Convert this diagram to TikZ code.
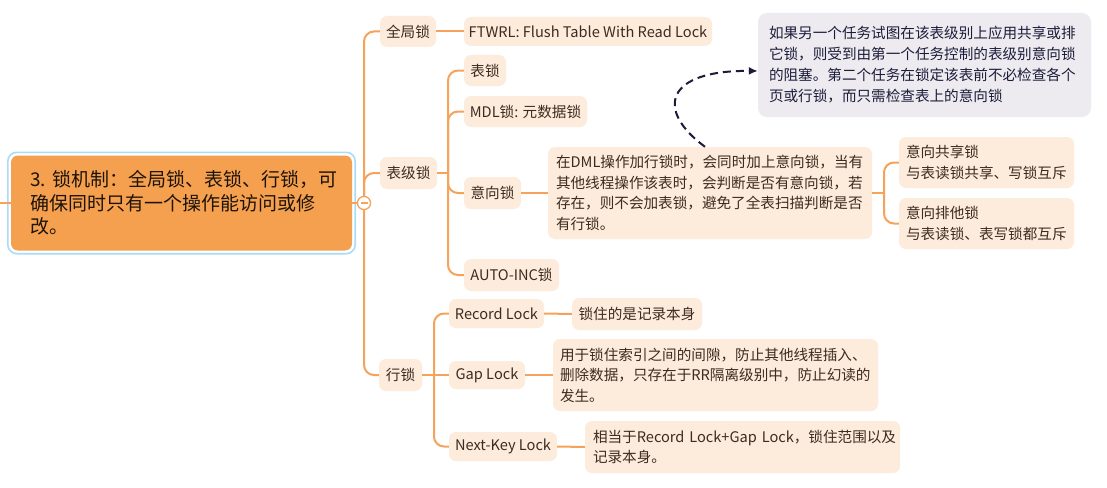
\documentclass[tikz,border=0pt]{standalone}
\usepackage{fontspec}
\setmainfont{Noto Sans CJK SC}
\usetikzlibrary{arrows.meta}
\definecolor{orangeline}{HTML}{F5A25A}
\definecolor{peach}{HTML}{FDEBDC}
\definecolor{mainfill}{HTML}{F5A04F}
\definecolor{mainborder}{HTML}{A8DCF7}
\definecolor{txt}{HTML}{3D2B1F}
\definecolor{calloutfill}{HTML}{EDEBEF}
\definecolor{navy}{HTML}{1C1C3A}
\begin{document}
\begin{tikzpicture}[x=1pt,y=-1pt,
  box/.style={fill=peach, rounded corners=7pt, inner sep=0pt, text=txt,
    font=\fontsize{14.6}{20.5}\selectfont},
  multibox/.style={box, align=left, inner xsep=8pt, inner ysep=0pt},
  mainbox/.style={fill=mainfill, rounded corners=7pt, inner xsep=19pt, inner ysep=0pt,
    text=black!85!brown, align=left, font=\fontsize{19}{23.5}\selectfont},
  callbox/.style={fill=calloutfill, rounded corners=9pt, inner xsep=11pt, inner ysep=0pt,
    text=navy, align=left, font=\fontsize{14.6}{21}\selectfont},
  conn/.style={draw=orangeline, line width=2pt},
  tree/.style={conn, rounded corners=10pt},
  dasharrow/.style={draw=navy, line width=2pt, dash pattern=on 8pt off 5pt,
    -{Latex[length=9pt,width=8pt]}}
]
\useasboundingbox (0,0) rectangle (1107,487);
\fill[white] (0,0) rectangle (1107,487);

% main node
\node[mainbox, minimum width=341pt, minimum height=95pt, text width=303pt] (main) at (181.5,203)
  {3.~锁机制：全局锁、表锁、行锁，可\\确保同时只有一个操作能访问或修\\改。};
\draw[mainborder, line width=1.6pt, rounded corners=9pt]
  ([shift={(-3,-3)}]main.north west) rectangle ([shift={(3,3)}]main.south east);

% collapse circle
\node[circle, draw=orangeline, fill=white, line width=1.2pt, minimum size=13pt, inner sep=0pt] (circ) at (364,203) {};

% level 1
\node[box, minimum width=56pt, minimum height=31pt] (g) at (408,31.5) {全局锁};
\node[box, minimum width=57pt, minimum height=32pt] (bjs) at (408.5,173) {表级锁};
\node[box, minimum width=43pt, minimum height=32pt] (hs) at (400.5,375) {行锁};

% 全局锁 child
\node[box, minimum width=248pt, minimum height=29pt] (ftwrl) at (588,31.5) {FTWRL: Flush Table With Read Lock};

% 表级锁 children
\node[box, minimum width=42pt, minimum height=31pt] (biao) at (485,70.5) {表锁};
\node[box, minimum width=123pt, minimum height=31pt] (mdl) at (525.5,111.5) {MDL锁: 元数据锁};
\node[box, minimum width=57pt, minimum height=32pt] (yxs) at (492.5,193) {意向锁};
\node[box, minimum width=95pt, minimum height=32pt] (auto) at (511.5,275) {AUTO-INC锁};

% 意向锁 description
\node[multibox, text width=308pt, minimum height=92pt] (dml) at (710,193)
  {在DML操作加行锁时，会同时加上意向锁，当有\\其他线程操作该表时，会判断是否有意向锁，若\\存在，则不会加表锁，避免了全表扫描判断是否\\有行锁。};
\node[multibox, inner xsep=7pt, text width=161pt, minimum height=51pt] (yxgx) at (986.5,162.5)
  {意向共享锁\\与表读锁共享、写锁互斥};
\node[multibox, inner xsep=7pt, text width=161pt, minimum height=51pt] (yxpt) at (986.5,223.5)
  {意向排他锁\\与表读锁、表写锁都互斥};

% callout
\node[callbox, text width=311pt, minimum height=104pt] (callout) at (924.5,65)
  {如果另一个任务试图在该表级别上应用共享或排\\它锁，则受到由第一个任务控制的表级别意向锁\\的阻塞。第二个任务在锁定该表前不必检查各个\\页或行锁，而只需检查表上的意向锁};

% 行锁 children
\node[box, minimum width=95pt, minimum height=29pt] (rec) at (496.5,313.5) {Record Lock};
\node[box, minimum width=76pt, minimum height=28pt] (gap) at (487,375) {Gap Lock};
\node[box, minimum width=108pt, minimum height=29pt] (nk) at (503,446.5) {Next-Key Lock};
\node[box, minimum width=130pt, minimum height=32pt] (recd) at (637,314) {锁住的是记录本身};
\node[multibox, inner xsep=7pt, text width=311pt, minimum height=72pt] (gapd) at (715.5,375)
  {用于锁住索引之间的间隙，防止其他线程插入、\\删除数据，只存在于RR隔离级别中，防止幻读的\\发生。};
\node[multibox, inner xsep=8pt, text width=299pt, minimum height=52pt] (nkd) at (742.5,447)
  {相当于Record~Lock+Gap~Lock，锁住范围以及\\记录本身。};

% coordinates
\coordinate (lft) at (0,203);
\coordinate (tj) at (448,173);
\coordinate (fk) at (884,193);
\coordinate (rj) at (434,375);
\coordinate (ds) at ([xshift=-5pt]dml.north);
\coordinate (ce) at ([yshift=-6pt]callout.west);

% connectors
\draw[conn] (lft) -- (main.west);
\draw[conn] (main.east) -- (circ.west);
\draw[tree] (circ.north) |- (g.west);
\draw[tree] (circ.north) |- (bjs.west);
\draw[tree] (circ.south) |- (hs.west);
\draw[conn] (g.east) -- (ftwrl.west);
\draw[conn] (bjs.east) -- (tj);
\draw[tree] (tj) |- (biao.west);
\draw[tree] (tj) |- (mdl.west);
\draw[tree] (tj) |- (yxs.west);
\draw[tree] (tj) |- (auto.west);
\draw[conn] (yxs.east) -- (dml.west);
\draw[conn] (dml.east) -- (fk);
\draw[tree] (fk) |- (yxgx.west);
\draw[tree] (fk) |- (yxpt.west);
\draw[conn] (hs.east) -- (rj);
\draw[tree] (rj) |- (rec.west);
\draw[conn] (rj) -- (gap.west);
\draw[tree] (rj) |- (nk.west);
\draw[conn] (rec.east) -- (recd.west);
\draw[conn] (gap.east) -- (gapd.west);
\draw[conn] (nk.east) -- (nkd.west);

% redraw circle on top with minus
\node[circle, draw=orangeline, fill=white, line width=1.2pt, minimum size=13pt, inner sep=0pt] at (circ) {};
\draw[orangeline, line width=1.2pt] ([xshift=-3.5pt]circ.center) -- ([xshift=3.5pt]circ.center);

% dashed arrow
\draw[dasharrow] (ds) .. controls (655,110) and (665,70) .. (ce);
\end{tikzpicture}
\end{document}
